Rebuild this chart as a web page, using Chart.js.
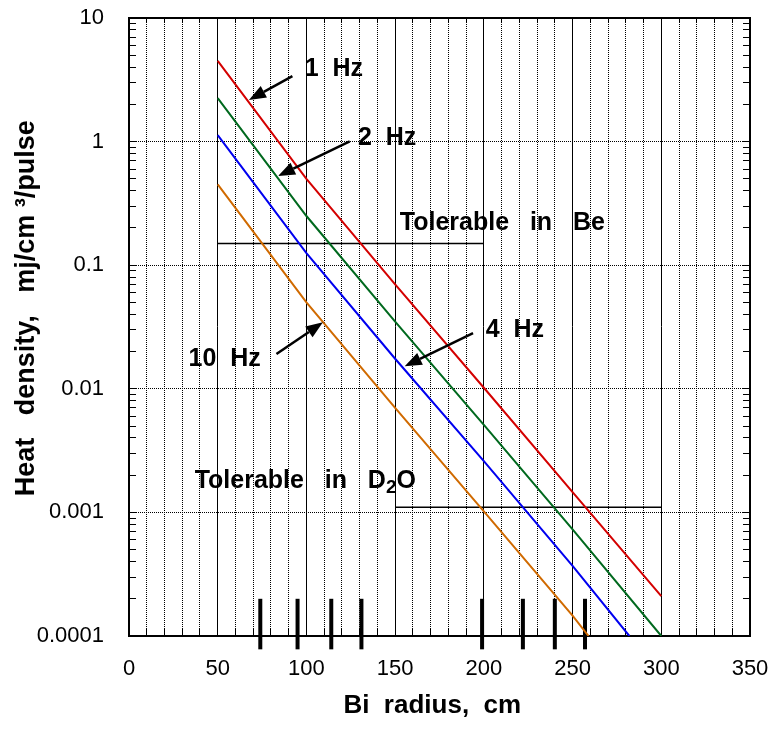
<!DOCTYPE html>
<html>
<head>
<meta charset="utf-8">
<title>Heat density vs Bi radius</title>
<script src="https://cdn.jsdelivr.net/npm/chart.js@4.4.1/dist/chart.umd.min.js"></script>
<style>
  html, body { margin: 0; padding: 0; background: #fff; }
</style>
</head>
<body>
<canvas id="heatChart" width="779" height="747"></canvas>
<script>
// values
const radius1Hz = [50, 100, 150, 200, 250, 300];
const heat1Hz = [4.5, 0.5, 0.07, 0.0102, 0.00146, 0.00021];
const radius2Hz = [50, 100, 150, 200, 250, 300];
const heat2Hz = [2.25, 0.25, 0.035, 0.0051, 0.00073, 0.0001];
const radius4Hz = [50, 100, 150, 200, 250, 282];
const heat4Hz = [1.13, 0.125, 0.0175, 0.0026, 0.00037, 0.0001];
const radius10Hz = [50, 100, 150, 200, 250, 259];
const heat10Hz = [0.45, 0.05, 0.007, 0.00102, 0.000146, 0.0001];

const beLimitRadius = [50, 200];
const beLimitHeat = [0.15, 0.15];
const d2oLimitRadius = [150, 300];
const d2oLimitHeat = [0.0011, 0.0011];

const markRadius = [74, 95, 114, 131, 199, 222, 240, 257];
const markHeat = [0.000078, 0.0002];

const xTickLabels = ['0', '50', '100', '150', '200', '250', '300', '350'];
const yTickValues = [0.0001, 0.001, 0.01, 0.1, 1, 10];
const yTickLabels = ['0.0001', '0.001', '0.01', '0.1', '1', '10'];
const noteLabels = ['1  Hz', '2  Hz', '4  Hz', '10  Hz', 'Tolerable   in   Be'];
const d2oLabel = ['Tolerable   in   D', '2', 'O'];

const FONT = 'Liberation Sans';

const toPoints = (xs, ys) => xs.map((x, i) => ({ x, y: ys[i] }));

const sameLog = (a, b) => Math.abs(Math.log10(a) - Math.log10(b)) < 1e-6;

const wholeMantissa = (v) => {
  const m = v / Math.pow(10, Math.floor(Math.log10(v) + 1e-9));
  return Math.abs(m - Math.round(m)) < 1e-6;
};

const keepWholeTicks = (scale) => {
  scale.ticks = scale.ticks.filter((t) => wholeMantissa(t.value));
};

// fixed box sizes so the plot frame sits where the reference has it
const fixBox = (size) => (s) => {
  if (s.isHorizontal()) s.height = size;
  else s.width = size;
  s.paddingTop = 0;
  s.paddingBottom = 0;
  s.paddingLeft = 0;
  s.paddingRight = 0;
};

const seriesLine = (label, xs, ys, color) => ({
  label,
  data: toPoints(xs, ys),
  borderColor: color,
  borderWidth: 2,
  pointRadius: 0,
  tension: 0,
  fill: false,
});

const blackLine = (label, xs, ys, width) => ({
  label,
  data: toPoints(xs, ys),
  borderColor: '#000',
  borderWidth: width,
  borderCapStyle: 'butt',
  pointRadius: 0,
  fill: false,
  clip: false,
});

const datasets = [
  seriesLine('1 Hz', radius1Hz, heat1Hz, '#d40000'),
  seriesLine('2 Hz', radius2Hz, heat2Hz, '#00691e'),
  seriesLine('4 Hz', radius4Hz, heat4Hz, '#0000f0'),
  seriesLine('10 Hz', radius10Hz, heat10Hz, '#d06a00'),
  blackLine('Be', beLimitRadius, beLimitHeat, 1.5),
  blackLine('D2O', d2oLimitRadius, d2oLimitHeat, 1.5),
  ...markRadius.map((r) => blackLine(`mark ${r}`, [r, r], markHeat, 4)),
];

// labels: left edge / middle in data units; arrows: tail -> tip
const notes = {
  size: 25,
  labels: [
    { text: noteLabels[0], x: 99, y: 3.84 },
    { text: noteLabels[1], x: 129, y: 1.06 },
    { text: noteLabels[2], x: 201, y: 0.0299 },
    { text: noteLabels[3], x: 33.6, y: 0.0174 },
    { text: noteLabels[4], x: 152.6, y: 0.219 },
  ],
  d2o: { x: 37, y: 0.00179 },
  arrows: [
    { from: [92.1, 3.39], to: [67.6, 2.17] },
    { from: [124.4, 1.006], to: [84, 0.526] },
    { from: [193.9, 0.0282], to: [155.4, 0.0152] },
    { from: [83.1, 0.0191], to: [109.3, 0.0345] },
  ],
};

const notesPlugin = {
  id: 'notes',
  afterDatasetsDraw(chart) {
    const { ctx, scales: { x, y } } = chart;
    const px = (v) => x.getPixelForValue(v);
    const py = (v) => y.getPixelForValue(v);

    ctx.save();
    ctx.fillStyle = '#000';
    ctx.strokeStyle = '#000';
    ctx.textBaseline = 'middle';
    ctx.textAlign = 'left';
    ctx.font = `bold ${notes.size}px "${FONT}"`;

    notes.labels.forEach((n) => ctx.fillText(n.text, px(n.x), py(n.y)));

    // Tolerable in D2O with subscript
    let cx = px(notes.d2o.x);
    const cy = py(notes.d2o.y);
    ctx.fillText(d2oLabel[0], cx, cy);
    cx += ctx.measureText(d2oLabel[0]).width;
    ctx.font = `bold 19px "${FONT}"`;
    ctx.fillText(d2oLabel[1], cx, cy + 7);
    cx += ctx.measureText(d2oLabel[1]).width;
    ctx.font = `bold ${notes.size}px "${FONT}"`;
    ctx.fillText(d2oLabel[2], cx, cy);

    notes.arrows.forEach((a) => {
      const x1 = px(a.from[0]);
      const y1 = py(a.from[1]);
      const x2 = px(a.to[0]);
      const y2 = py(a.to[1]);
      const ang = Math.atan2(y2 - y1, x2 - x1);
      const head = 17;
      const half = 6.5;
      const bx = x2 - head * Math.cos(ang);
      const by = y2 - head * Math.sin(ang);
      ctx.lineWidth = 2.5;
      ctx.beginPath();
      ctx.moveTo(x1, y1);
      ctx.lineTo(bx, by);
      ctx.stroke();
      ctx.beginPath();
      ctx.moveTo(x2, y2);
      ctx.lineTo(bx + half * Math.sin(ang), by - half * Math.cos(ang));
      ctx.lineTo(bx - half * Math.sin(ang), by + half * Math.cos(ang));
      ctx.closePath();
      ctx.fill();
    });
    ctx.restore();
  },
};

const tickFont = { family: FONT, size: 22 };
const titleFont = { family: FONT, size: 26, weight: 'bold' };

new Chart(document.getElementById('heatChart'), {
  type: 'line',
  data: { datasets },
  options: {
    responsive: false,
    animation: false,
    devicePixelRatio: 1,
    layout: { padding: 0 },
    plugins: {
      legend: { display: false },
      tooltip: { enabled: false },
    },
    scales: {
      x: {
        type: 'linear',
        position: 'bottom',
        min: 0,
        max: 350,
        ticks: {
          stepSize: 10,
          autoSkip: false,
          maxRotation: 0,
          minRotation: 0,
          padding: 27,
          color: '#000',
          font: tickFont,
          callback: (v) => (v % 50 === 0 ? xTickLabels[v / 50] : ''),
        },
        grid: { color: '#000', lineWidth: 1, tickLength: -7, tickColor: '#000' },
        border: {
          color: '#000',
          width: 2,
          dash: (c) => (c.tick && c.tick.value % 50 === 0 ? [] : [1, 1]),
        },
        title: {
          display: true,
          text: 'Bi  radius,  cm  ',
          color: '#000',
          font: titleFont,
          padding: { top: 0, bottom: 26 },
        },
        afterFit: fixBox(111),
      },
      xTop: {
        type: 'linear',
        position: 'top',
        min: 0,
        max: 350,
        ticks: { display: false, stepSize: 10 },
        grid: { drawOnChartArea: false, tickLength: -5, tickColor: '#000' },
        border: { color: '#000', width: 2 },
        afterFit: fixBox(18),
      },
      y: {
        type: 'logarithmic',
        position: 'left',
        min: 0.0001,
        max: 10,
        afterBuildTicks: keepWholeTicks,
        ticks: {
          autoSkip: false,
          padding: 32,
          color: '#000',
          font: tickFont,
          callback: (v) => {
            const i = yTickValues.findIndex((t) => sameLog(t, v));
            return i >= 0 ? yTickLabels[i] : '';
          },
        },
        grid: {
          color: (c) => (yTickValues.some((t) => sameLog(t, c.tick.value)) ? '#000' : 'rgba(0,0,0,0)'),
          tickLength: -7,
          tickColor: '#000',
        },
        border: { color: '#000', width: 2, dash: [1, 1] },
        title: {
          display: true,
          text: '     Heat   density,   mj/cm ³/pulse',
          color: '#000',
          font: { family: FONT, size: 27, weight: 'bold' },
          padding: { top: 10, bottom: 0 },
        },
        afterFit: fixBox(129),
      },
      yRight: {
        type: 'logarithmic',
        position: 'right',
        min: 0.0001,
        max: 10,
        afterBuildTicks: keepWholeTicks,
        ticks: { display: false },
        grid: { drawOnChartArea: false, tickLength: -7, tickColor: '#000' },
        border: { color: '#000', width: 2 },
        afterFit: fixBox(29),
      },
    },
  },
  plugins: [notesPlugin],
});
</script>
</body>
</html>
